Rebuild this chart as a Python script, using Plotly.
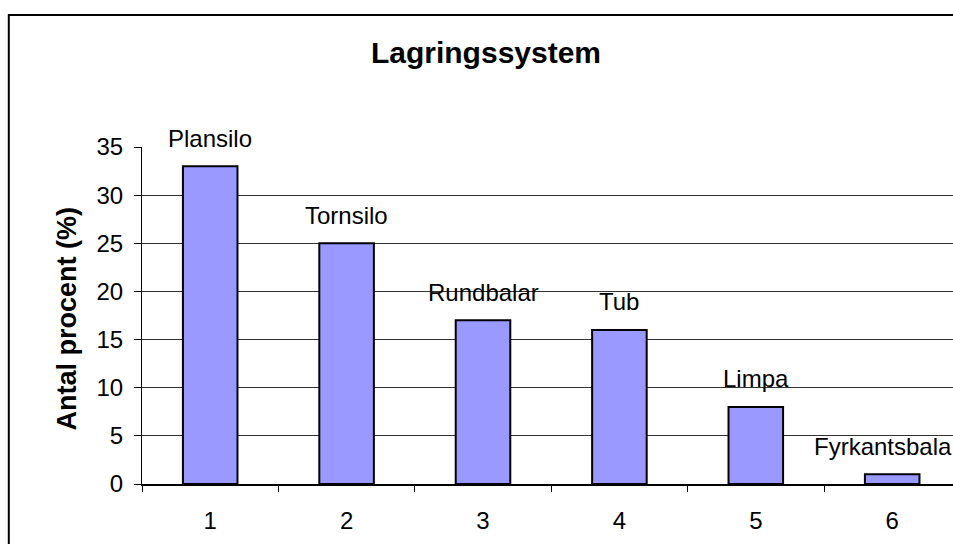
import plotly.graph_objects as go

categories = [1, 2, 3, 4, 5, 6]
values = [33, 25, 17, 16, 8, 1]
labels = ["Plansilo", "Tornsilo", "Rundbalar", "Tub", "Limpa", "Fyrkantsbala"]
y_ticks = [0, 5, 10, 15, 20, 25, 30, 35]
grid_vals = [5, 10, 15, 20, 25, 30]

FONT = "Liberation Sans, Arial, sans-serif"

fig = go.Figure()
fig.add_trace(go.Bar(
    x=categories, y=values, width=0.4,
    marker=dict(color="#9999FF", line=dict(color="black", width=2)),
    showlegend=False, hoverinfo="skip",
))

n = len(categories)
for i, (c, v, t) in enumerate(zip(categories, values, labels)):
    # the last label is nudged left so it stays inside the page, as in the original
    fig.add_annotation(x=c, y=v, text=t, showarrow=False, yanchor="middle",
                       yshift=28, xshift=(-9 if i == n - 1 else 0),
                       font=dict(size=24, color="black", family=FONT))

W, H = 953, 544
L, R, T, B = 142, 0, 147, 60
pw = W - L - R
ph = H - T - B
cat_w = 136.4

fig.add_annotation(xref="paper", yref="paper", x=(67 - L) / pw, y=0.491,
                   text="<b>Antal procent (%)</b>", textangle=-90, showarrow=False,
                   xanchor="center", yanchor="middle",
                   font=dict(size=27, color="black", family=FONT))

# chart border
fig.add_shape(type="rect", xref="paper", yref="paper",
              x0=(8.8 - L) / pw, x1=1.05, y0=-0.3, y1=(H - B - 15) / ph,
              line=dict(color="black", width=2), fillcolor="rgba(0,0,0,0)", layer="below")

fig.update_layout(
    width=W, height=H,
    margin=dict(l=L, r=R, t=T, b=B, pad=0),
    paper_bgcolor="white", plot_bgcolor="white",
    font=dict(family=FONT, size=24, color="black"),
    title=dict(text="<b>Lagringssystem</b>", x=486 / W, xanchor="center",
               y=1 - 52 / H, yanchor="middle", font=dict(size=30, color="black", family=FONT)),
    xaxis=dict(range=[0.5, 0.5 + pw / cat_w], tickvals=categories,
               ticktext=[str(c) for c in categories], ticks="",
               ticklabelstandoff=14,
               showline=True, linecolor="black", linewidth=1.5, showgrid=False, zeroline=False,
               minor=dict(tick0=0.5, dtick=1, ticks="outside", ticklen=6, tickcolor="black",
                          tickwidth=1, showgrid=False),
               tickfont=dict(size=24)),
    yaxis=dict(range=[0, 35], tickvals=y_ticks, ticks="outside", ticklen=7, tickcolor="black",
               tickwidth=1, showline=True, linecolor="black", linewidth=1, showgrid=False,
               zeroline=False, ticklabelstandoff=6, tickfont=dict(size=24),
               minor=dict(tickvals=grid_vals, showgrid=True, gridcolor="#333333", gridwidth=1,
                          ticks="")),
    bargap=0.6,
)

fig.write_html("out.html",
               config={"displayModeBar": False},
               post_script="document.body.style.margin='0px';"
                           "document.documentElement.style.overflow='hidden';"
                           "document.body.style.overflow='hidden';")
